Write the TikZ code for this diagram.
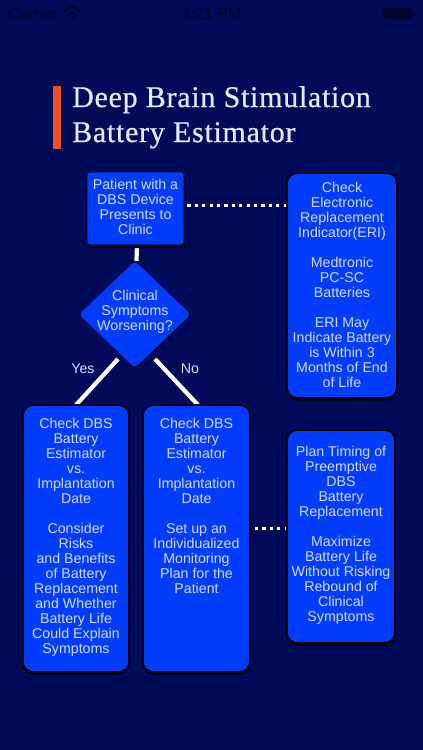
\documentclass[tikz,border=0pt]{standalone}
\usepackage{fontspec}
\setmainfont{Liberation Sans}
\newfontfamily\titlefont[FakeBold=0.5,LetterSpace=2.4]{Liberation Serif}
\usetikzlibrary{shapes.geometric,shadows,calc}
\pgfdeclarelayer{linklayer}
\pgfsetlayers{linklayer,main}
\definecolor{bgnavy}{RGB}{2,10,90}
\definecolor{boxblue}{RGB}{3,60,250}
\definecolor{barorange}{RGB}{240,80,40}
\definecolor{txtpale}{RGB}{205,218,255}
\definecolor{statusdark}{RGB}{2,5,45}
\newcommand{\topblock}[4]{\parbox[c][#1pt][t]{#2pt}{\vspace*{#3pt}\centering #4\par}}
\newcommand{\liftblock}[2]{\raisebox{#1pt}{\begin{tabular}{@{}c@{}}#2\end{tabular}}}
\tikzset{
  x=1pt,y=-1pt,
  bodyfont/.style={font=\fontsize{14.2}{15}\selectfont},
  boxbase/.style={rectangle,fill=boxblue,draw=black!90!bgnavy,text=txtpale,align=center,bodyfont,inner sep=0pt},
  flowbox/.style={boxbase,rounded corners=10pt,line width=1.8pt,
    general shadow={shadow yshift=-2.5pt,fill=black!90!bgnavy}},
  smallbox/.style={boxbase,rounded corners=3pt,line width=0.6pt,
    general shadow={shadow xshift=1pt,shadow yshift=-3pt,fill=black!90!bgnavy}},
  decision/.style={diamond,aspect=1.05,fill=boxblue,rounded corners=4pt,text=txtpale,align=center,bodyfont,inner sep=0pt,
    general shadow={shadow xshift=1pt,shadow yshift=-1pt,fill=black!80!bgnavy}},
  solidlink/.style={draw=white,line width=4.2pt},
  dotlink/.style={draw=white,line width=3pt,dash pattern=on 3.2pt off 4.2pt},
  branchlabel/.style={text=txtpale!85!white,bodyfont,inner sep=0pt},
  statustext/.style={text=statusdark,font=\fontsize{16}{18}\selectfont,inner sep=0pt},
  titletext/.style={text=txtpale!50!white,font=\titlefont\fontsize{30}{35}\selectfont,align=left,inner sep=0pt,anchor=north west}
}
\begin{document}
\begin{tikzpicture}
\useasboundingbox (0,0) rectangle (423,750);
\begin{pgfonlayer}{linklayer}
\fill[bgnavy] (0,0) rectangle (423,750);
\end{pgfonlayer}
% status bar
\node[statustext,anchor=west] (carrier) at (8,14) {Carrier};
\node[statustext,anchor=center] (clock) at (211.5,14) {4:21 PM};
\draw[statusdark,line width=2.3pt] (64.5,11.5) .. controls (72.5,5.5) .. (80.5,11.5);
\draw[statusdark,line width=2.3pt] (67.8,15) .. controls (72.5,11.3) .. (77.2,15);
\fill[statusdark] (70.2,17.3) .. controls (72.5,15.8) .. (74.8,17.3) -- (72.5,20) -- cycle;
\fill[statusdark,rounded corners=1.5pt] (383,8) rectangle (412,19);
\fill[statusdark] (413,11.5) rectangle (415,15.5);
% title
\fill[barorange] (53,86) rectangle (61,149);
\node[titletext] (title) at (72,86) {Deep Brain Stimulation\\Battery Estimator};
% nodes
\node[smallbox,minimum width=97pt,minimum height=73pt] (patient) at (135.5,208.5) {\liftblock{1}{Patient with a\\DBS Device\\Presents to\\Clinic}};
\node[decision,minimum width=112pt,minimum height=107pt] (worse) at (135,314.5) {\smash{\makebox[0pt]{\liftblock{-2}{Clinical\\Symptoms\\Worsening?}}}};
\node[flowbox,minimum width=106pt,minimum height=267pt] (left) at (76,538.5) {\topblock{267}{106}{13}{Check DBS\\Battery\\Estimator\\vs.\\Implantation\\Date\\[15pt]Consider\\Risks\\and Benefits\\of Battery\\Replacement\\and Whether\\Battery Life\\Could Explain\\Symptoms}};
\node[flowbox,minimum width=107pt,minimum height=267pt] (mid) at (196.5,538.5) {\topblock{267}{107}{13}{Check DBS\\Battery\\Estimator\\vs.\\Implantation\\Date\\[15pt]Set up an\\Individualized\\Monitoring\\Plan for the\\Patient}};
\node[flowbox,minimum width=110pt,minimum height=225pt] (eri) at (342,285.5) {\topblock{225}{110}{9}{Check\\Electronic\\Replacement\\Indicator(ERI)\\[15pt]Medtronic\\PC-SC\\Batteries\\[15pt]ERI May\\Indicate Battery\\is Within 3\\Months of End\\of Life}};
\node[flowbox,minimum width=108pt,minimum height=213pt] (plan) at (341,536.5) {\topblock{213}{108}{16}{Plan Timing of\\Preemptive\\DBS\\Battery\\Replacement\\[15pt]Maximize\\Battery Life\\Without Risking\\Rebound of\\Clinical\\Symptoms}};
\node[branchlabel] (yes) at (83,369) {Yes};
\node[branchlabel] (no) at (190,369) {No};
% connectors
\begin{pgfonlayer}{linklayer}
\coordinate (lefttop) at (76,405);
\coordinate (midtop) at (198,405);
\coordinate (wl) at (118,359);
\coordinate (wr) at (155,359);
\draw[solidlink] (wl) -- (lefttop);
\draw[solidlink] (wr) -- (midtop);
\draw[solidlink] ($(patient.south)+(1.5,0)$) -- ($(worse.north)+(1.5,0)$);
\draw[dotlink] ($(patient.east |- 0,205)+(3,0)$) -- (eri.west |- 0,205);
\draw[dotlink] ($(mid.east |- 0,528)+(4,0)$) -- (plan.west |- 0,528);
\end{pgfonlayer}
\end{tikzpicture}
\end{document}
